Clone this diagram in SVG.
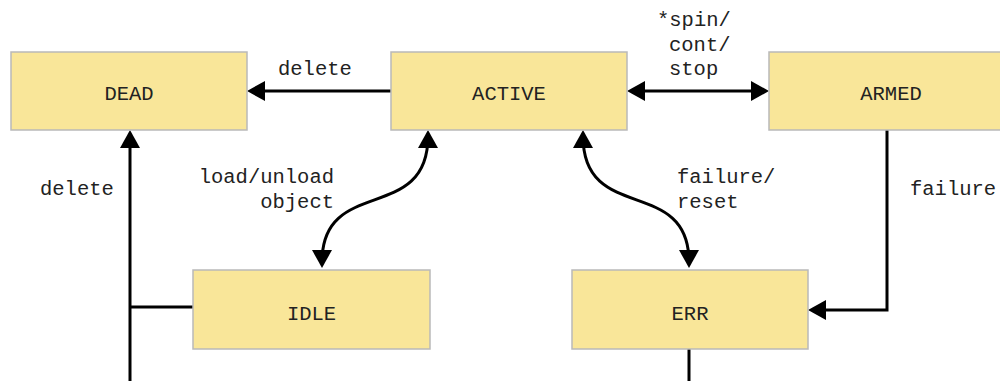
<svg xmlns="http://www.w3.org/2000/svg" width="1000" height="381" viewBox="0 0 1000 381">
<style>
.box{fill:#f9e699;stroke:#b9b9b9;stroke-width:1.5}
.t{font-family:"Liberation Mono","Courier New",monospace;font-size:20.5px;fill:#222}
.c{text-anchor:middle}
.e{fill:none;stroke:#000;stroke-width:3}
</style>
<defs>
<marker id="ah" markerUnits="userSpaceOnUse" markerWidth="18" markerHeight="20" refX="12" refY="10" orient="auto-start-reverse">
<path d="M0,0 L18,10 L0,20 z" fill="#000"/>
</marker>
</defs>
<g id="connectors">
<path class="e" d="M391,91 L253,91" marker-end="url(#ah)"/>
<path class="e" d="M633,91 L763,91" marker-start="url(#ah)" marker-end="url(#ah)"/>
<path class="e" d="M130,381 L130,136" marker-end="url(#ah)"/>
<path class="e" d="M193,307 L130,307"/>
<path class="e" d="M428,136 C428,225 322,175 322,262" marker-start="url(#ah)" marker-end="url(#ah)"/>
<path class="e" d="M583,136 C583,225 689,175 689,262" marker-start="url(#ah)" marker-end="url(#ah)"/>
<path class="e" d="M887,130 L887,310 L814,310" marker-end="url(#ah)"/>
<path class="e" d="M689,349 L689,381"/>
<text class="t" x="278" y="75">delete</text>
<text class="t" x="657" y="26">*spin/</text>
<text class="t" x="669" y="51">cont/</text>
<text class="t" x="669" y="75">stop</text>
<text class="t" x="40" y="195">delete</text>
<text class="t" x="334" y="183" text-anchor="end">load/unload</text>
<text class="t" x="334" y="208" text-anchor="end">object</text>
<text class="t" x="677" y="183">failure/</text>
<text class="t" x="677" y="208">reset</text>
<text class="t" x="910" y="195">failure</text>
</g>
<g id="DEAD"><rect class="box" x="11" y="52" width="236" height="78"/><text class="t c" x="129" y="100">DEAD</text></g>
<g id="ACTIVE"><rect class="box" x="391" y="52" width="236" height="78"/><text class="t c" x="509" y="100">ACTIVE</text></g>
<g id="ARMED"><rect class="box" x="769" y="52" width="236" height="78"/><text class="t c" x="891" y="100">ARMED</text></g>
<g id="IDLE"><rect class="box" x="193" y="270" width="237" height="79"/><text class="t c" x="311.5" y="319.5">IDLE</text></g>
<g id="ERR"><rect class="box" x="572" y="270" width="236" height="79"/><text class="t c" x="690" y="319.5">ERR</text></g>
</svg>
